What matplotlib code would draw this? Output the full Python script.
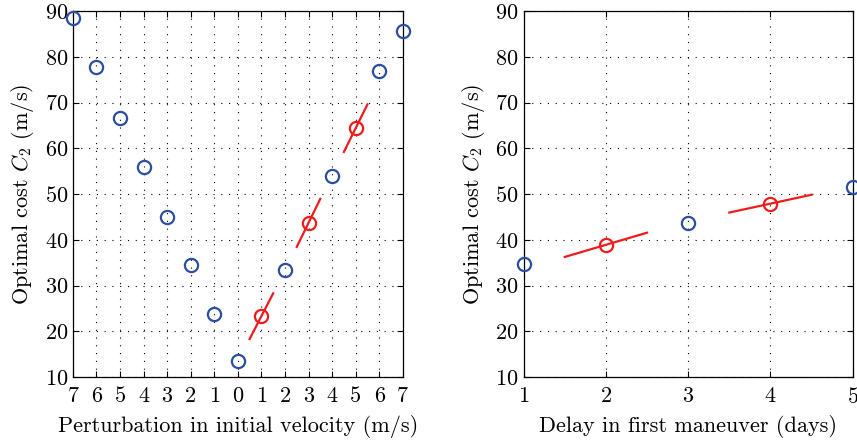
import numpy as np
import matplotlib
matplotlib.use('Agg')
import matplotlib.pyplot as plt

plt.rcParams['font.family'] = 'serif'
plt.rcParams['font.serif'] = ['cmr10']
plt.rcParams['mathtext.fontset'] = 'cm'
plt.rcParams['axes.formatter.use_mathtext'] = True

# left panel: perturbation in initial velocity
dv = [-7, -6, -5, -4, -3, -2, -1, 0, 1, 2, 3, 4, 5, 6, 7]
cost_dv = [88.5, 77.8, 66.7, 55.9, 45.0, 34.4, 23.8, 13.6,
           23.3, 33.4, 43.7, 54.0, 64.4, 76.8, 85.6]
dv_red = [1, 3, 5]
slope_dv = [10.0, 10.5, 10.4]

# right panel: delay in first maneuver
delay = [1, 2, 3, 4, 5]
cost_delay = [34.6, 38.9, 43.6, 47.9, 51.5]
delay_red = [2, 4]
slope_delay = [5.3, 3.9]

blue = '#2b4da3'
red = '#ee1c1c'

fig = plt.figure(figsize=(8.57, 4.42), dpi=100)
ax1 = fig.add_axes([0.085, 0.147, 0.385, 0.828])
ax2 = fig.add_axes([0.611, 0.147, 0.384, 0.828])


def draw(ax, x, y, xr, slopes):
    for xi, yi in zip(x, y):
        col = red if xi in xr else blue
        ax.plot(xi, yi, 'o', mfc='none', mec=col, ms=9.5, mew=1.6,
                clip_on=False, zorder=5)
    for xi, k in zip(xr, slopes):
        yi = y[x.index(xi)]
        xs = np.array([xi - 0.5, xi + 0.5])
        ax.plot(xs, yi + k * (xs - xi), '-', color=red, lw=1.6, zorder=4)
    ax.set_ylim(10, 90)
    ax.set_yticks(range(10, 91, 10))
    ax.grid(True, color='k', linestyle=(0, (1, 6)), lw=0.8)
    ax.tick_params(direction='in', top=True, right=True, labelsize=16,
                   length=4)
    ax.tick_params(axis='x', pad=7)
    ax.set_ylabel(r'Optimal cost $C_2$ (m/s)', fontsize=16, labelpad=6)
    for s in ax.spines.values():
        s.set_linewidth(0.9)


draw(ax1, dv, cost_dv, dv_red, slope_dv)
ax1.set_xlim(-7, 7)
ax1.set_xticks(dv)
ax1.set_xticklabels([str(abs(v)) for v in dv])
ax1.set_xlabel('Perturbation in initial velocity (m/s)', fontsize=16,
               labelpad=6)

draw(ax2, delay, cost_delay, delay_red, slope_delay)
ax2.set_xlim(1, 5)
ax2.set_xticks(delay)
ax2.set_xlabel('Delay in first maneuver (days)', fontsize=16, labelpad=6)

fig.savefig('out.png', dpi=100)
